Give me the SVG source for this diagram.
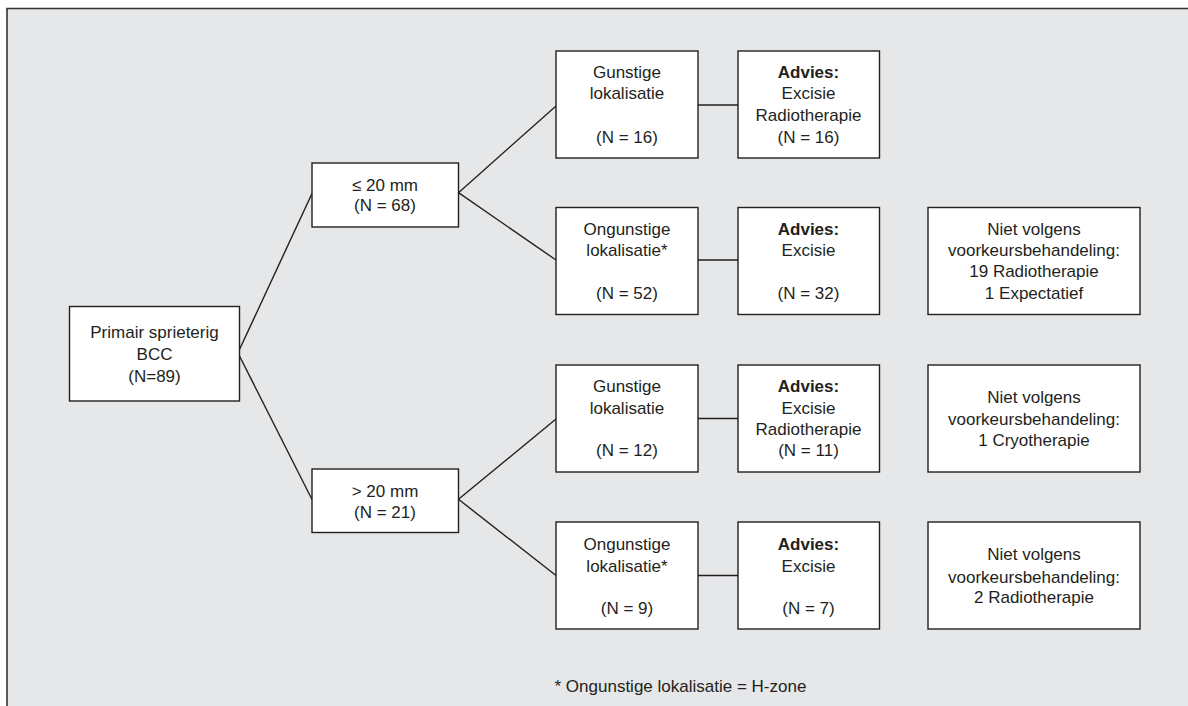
<svg xmlns="http://www.w3.org/2000/svg" width="1188" height="706" viewBox="0 0 1188 706">
  <style>
    .box { fill: #ffffff; stroke: #231f20; stroke-width: 1.4; }
    .t { font-family: "Liberation Sans", Arial, sans-serif; font-size: 17px; fill: #231f20; text-anchor: middle; }
    .b { font-weight: bold; }
    .ln { stroke: #231f20; stroke-width: 1.4; fill: none; }
  </style>
  <rect x="0" y="0" width="1188" height="706" fill="#ffffff"/>
  <rect x="7" y="8.5" width="1181" height="698" fill="#e6e7e8"/>
  <path d="M7,706 V8.5 H1188" stroke="#333333" stroke-width="1.6" fill="none"/>

  <g id="connectors">
    <line class="ln" x1="239.5" y1="349.5" x2="312" y2="193.5"/>
    <line class="ln" x1="239.5" y1="356" x2="312" y2="499.5"/>
    <line class="ln" x1="458.5" y1="192.7" x2="556" y2="106"/>
    <line class="ln" x1="458.5" y1="192.7" x2="556" y2="260"/>
    <line class="ln" x1="458.5" y1="499.3" x2="556" y2="419"/>
    <line class="ln" x1="458.5" y1="499.3" x2="556" y2="575.5"/>
    <line class="ln" x1="698" y1="105" x2="738" y2="105"/>
    <line class="ln" x1="698" y1="260" x2="738" y2="260"/>
    <line class="ln" x1="698" y1="418.5" x2="738" y2="418.5"/>
    <line class="ln" x1="698" y1="575.5" x2="738" y2="575.5"/>
  </g>

  <g id="root">
    <rect class="box" x="69.5" y="306.5" width="170" height="94.5"/>
    <text class="t" x="154.5" y="338">Primair sprieterig</text>
    <text class="t" x="154.5" y="360">BCC</text>
    <text class="t" x="154.5" y="381.5">(N=89)</text>
  </g>

  <g id="le20">
    <rect class="box" x="312" y="163" width="146.5" height="64"/>
    <text class="t" x="385" y="190.5">≤ 20 mm</text>
    <text class="t" x="385" y="211">(N = 68)</text>
  </g>

  <g id="gt20">
    <rect class="box" x="312" y="469" width="146.5" height="63.5"/>
    <text class="t" x="385" y="496.5">&gt; 20 mm</text>
    <text class="t" x="385" y="517.5">(N = 21)</text>
  </g>

  <g id="gunstig1">
    <rect class="box" x="556" y="51" width="142" height="107"/>
    <text class="t" x="627" y="78">Gunstige</text>
    <text class="t" x="627" y="99">lokalisatie</text>
    <text class="t" x="627" y="143">(N = 16)</text>
  </g>
  <g id="advies1">
    <rect class="box" x="738" y="51" width="141.5" height="107"/>
    <text class="t b" x="808.5" y="78">Advies:</text>
    <text class="t" x="808.5" y="99">Excisie</text>
    <text class="t" x="808.5" y="121">Radiotherapie</text>
    <text class="t" x="808.5" y="143">(N = 16)</text>
  </g>

  <g id="ongunstig1">
    <rect class="box" x="556" y="207.5" width="142" height="107"/>
    <text class="t" x="627" y="235">Ongunstige</text>
    <text class="t" x="627" y="256">lokalisatie*</text>
    <text class="t" x="627" y="299">(N = 52)</text>
  </g>
  <g id="advies2">
    <rect class="box" x="738" y="207.5" width="141.5" height="107"/>
    <text class="t b" x="808.5" y="235">Advies:</text>
    <text class="t" x="808.5" y="256">Excisie</text>
    <text class="t" x="808.5" y="299">(N = 32)</text>
  </g>
  <g id="niet1">
    <rect class="box" x="928" y="207.5" width="212" height="107"/>
    <text class="t" x="1034" y="235">Niet volgens</text>
    <text class="t" x="1034" y="256">voorkeursbehandeling:</text>
    <text class="t" x="1034" y="277">19 Radiotherapie</text>
    <text class="t" x="1034" y="299">1 Expectatief</text>
  </g>

  <g id="gunstig2">
    <rect class="box" x="556" y="365" width="142" height="107"/>
    <text class="t" x="627" y="392">Gunstige</text>
    <text class="t" x="627" y="414">lokalisatie</text>
    <text class="t" x="627" y="456">(N = 12)</text>
  </g>
  <g id="advies3">
    <rect class="box" x="738" y="365" width="141.5" height="107"/>
    <text class="t b" x="808.5" y="392">Advies:</text>
    <text class="t" x="808.5" y="414">Excisie</text>
    <text class="t" x="808.5" y="435">Radiotherapie</text>
    <text class="t" x="808.5" y="456">(N = 11)</text>
  </g>
  <g id="niet2">
    <rect class="box" x="928" y="365" width="212" height="107"/>
    <text class="t" x="1034" y="403">Niet volgens</text>
    <text class="t" x="1034" y="425">voorkeursbehandeling:</text>
    <text class="t" x="1034" y="446">1 Cryotherapie</text>
  </g>

  <g id="ongunstig2">
    <rect class="box" x="556" y="522" width="142" height="107"/>
    <text class="t" x="627" y="550">Ongunstige</text>
    <text class="t" x="627" y="571.5">lokalisatie*</text>
    <text class="t" x="627" y="614">(N = 9)</text>
  </g>
  <g id="advies4">
    <rect class="box" x="738" y="522" width="141.5" height="107"/>
    <text class="t b" x="808.5" y="550">Advies:</text>
    <text class="t" x="808.5" y="571.5">Excisie</text>
    <text class="t" x="808.5" y="614">(N = 7)</text>
  </g>
  <g id="niet3">
    <rect class="box" x="928" y="522" width="212" height="107"/>
    <text class="t" x="1034" y="560">Niet volgens</text>
    <text class="t" x="1034" y="582.5">voorkeursbehandeling:</text>
    <text class="t" x="1034" y="603">2 Radiotherapie</text>
  </g>

  <g id="footnote">
    <text class="t" x="554.5" y="691.5" style="text-anchor:start">* Ongunstige lokalisatie = H-zone</text>
  </g>
</svg>
